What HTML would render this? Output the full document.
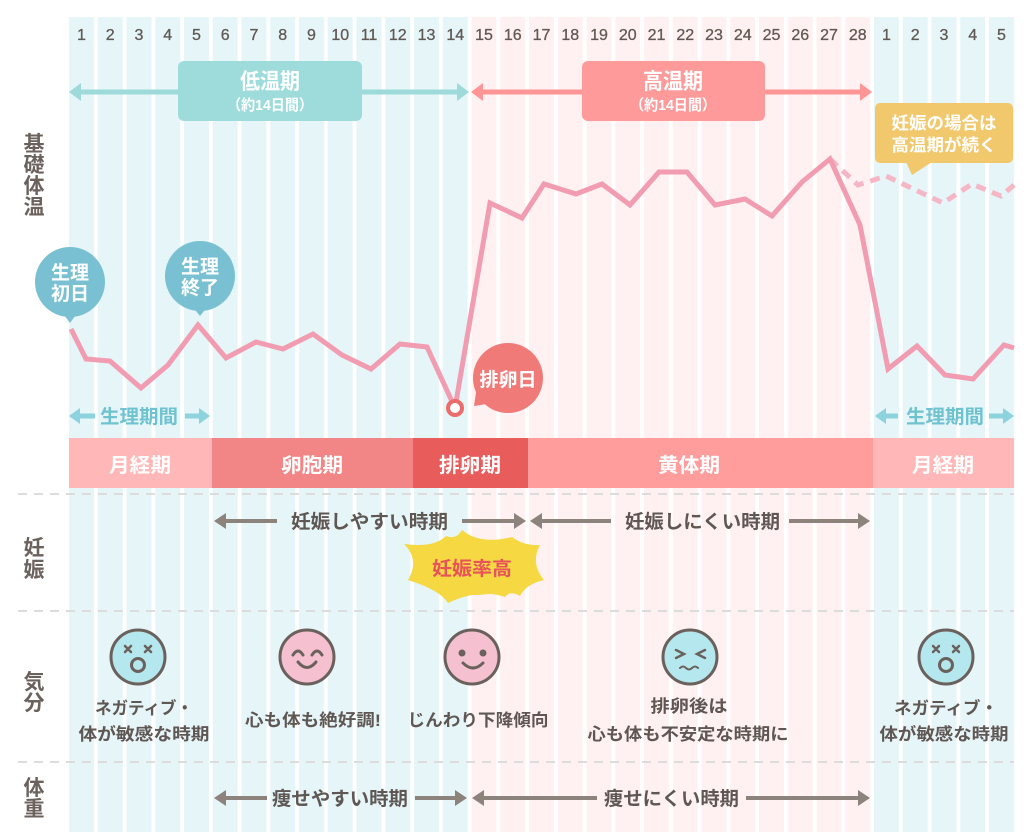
<!DOCTYPE html>
<html>
<head>
<meta charset="utf-8">
<style>
html,body{margin:0;padding:0;background:#fff;}
svg{display:block;}
text{font-family:"Liberation Sans","Noto Sans CJK JP",sans-serif;}
.j{font-family:"Liberation Sans","Noto Sans CJK JP",sans-serif;font-weight:700;}
</style>
</head>
<body>
<svg width="1035" height="832" viewBox="0 0 1035 832" xmlns="http://www.w3.org/2000/svg">
<defs>
<pattern id="pb" x="69" y="0" width="28.75" height="832" patternUnits="userSpaceOnUse"><rect x="0" y="0" width="25" height="832" fill="#e5f5f8"/></pattern>
<pattern id="pp" x="69" y="0" width="28.75" height="832" patternUnits="userSpaceOnUse"><rect x="0" y="0" width="25" height="832" fill="#fff1f1"/></pattern>
</defs>
<rect width="1035" height="832" fill="#fff"/>
<!-- columns -->
<rect x="69" y="17" width="402.5" height="815" fill="url(#pb)"/>
<rect x="471.5" y="17" width="402.5" height="815" fill="url(#pp)"/>
<rect x="874" y="17" width="141" height="815" fill="url(#pb)"/>

<!-- numbers -->
<g font-size="16" fill="#615954" stroke="#615954" stroke-width="0.3" text-anchor="middle">
<text x="81.5" y="40">1</text><text x="110.25" y="40">2</text><text x="139" y="40">3</text><text x="167.75" y="40">4</text><text x="196.5" y="40">5</text><text x="225.25" y="40">6</text><text x="254" y="40">7</text><text x="282.75" y="40">8</text><text x="311.5" y="40">9</text><text x="340.25" y="40">10</text><text x="369" y="40">11</text><text x="397.75" y="40">12</text><text x="426.5" y="40">13</text><text x="455.25" y="40">14</text><text x="484" y="40">15</text><text x="512.75" y="40">16</text><text x="541.5" y="40">17</text><text x="570.25" y="40">18</text><text x="599" y="40">19</text><text x="627.75" y="40">20</text><text x="656.5" y="40">21</text><text x="685.25" y="40">22</text><text x="714" y="40">23</text><text x="742.75" y="40">24</text><text x="771.5" y="40">25</text><text x="800.25" y="40">26</text><text x="829" y="40">27</text><text x="857.75" y="40">28</text><text x="886.5" y="40">1</text><text x="915.25" y="40">2</text><text x="944" y="40">3</text><text x="972.75" y="40">4</text><text x="1001.5" y="40">5</text>
</g>

<!-- top arrows -->
<line x1="78" y1="92" x2="460" y2="92" stroke="#9ddad9" stroke-width="5"/>
<polygon points="69,92 81,83 81,101" fill="#9ddad9"/>
<polygon points="469,92 457,83 457,101" fill="#9ddad9"/>
<line x1="480" y1="92" x2="862" y2="92" stroke="#ff9595" stroke-width="5"/>
<polygon points="471,92 483,83 483,101" fill="#ff9595"/>
<polygon points="872,92 860,83 860,101" fill="#ff9595"/>
<rect x="178" y="61" width="184" height="60" rx="6" fill="#9ddcdb"/>
<rect x="582" y="61" width="183" height="60" rx="6" fill="#ff9a9a"/>
<g class="j" fill="#fff" text-anchor="middle">
<text x="270" y="89" font-size="22" textLength="60" lengthAdjust="spacingAndGlyphs">低温期</text>
<text x="270" y="110" font-size="15" textLength="86" lengthAdjust="spacingAndGlyphs">（約14日間）</text>
<text x="673" y="89" font-size="22" textLength="60" lengthAdjust="spacingAndGlyphs">高温期</text>
<text x="673" y="110" font-size="15" textLength="86" lengthAdjust="spacingAndGlyphs">（約14日間）</text>
</g>

<!-- left axis labels -->
<g class="j" fill="#6b625d" font-size="21" text-anchor="middle">
<text x="34" y="151">基</text><text x="34" y="172">礎</text><text x="34" y="193">体</text><text x="34" y="214">温</text>
<text x="34" y="555">妊</text><text x="34" y="577">娠</text>
<text x="34" y="689">気</text><text x="34" y="710">分</text>
<text x="34" y="795">体</text><text x="34" y="816">重</text>
</g>

<!-- yellow bubble -->
<rect x="875" y="103" width="138" height="60" rx="5" fill="#f2c86c"/>
<polygon points="906,162 932,162 912,175" fill="#f2c86c"/>
<g class="j" fill="#fff" text-anchor="middle" font-size="17">
<text x="944" y="129" textLength="105" lengthAdjust="spacingAndGlyphs">妊娠の場合は</text>
<text x="944" y="151" textLength="105" lengthAdjust="spacingAndGlyphs">高温期が続く</text>
</g>

<!-- bubbles -->
<circle cx="70" cy="282" r="35" fill="#79c1d2"/>
<polygon points="62,312 78,312 70,323" fill="#79c1d2"/>
<circle cx="200" cy="276" r="35" fill="#79c1d2"/>
<polygon points="192,306 208,306 200,316" fill="#79c1d2"/>
<circle cx="508" cy="378" r="35" fill="#f07a78"/>
<polygon points="477,386 493,403 474,406" fill="#f07a78"/>
<g class="j" fill="#fff" text-anchor="middle" font-size="19">
<text x="70" y="279">生理</text><text x="70" y="300">初日</text>
<text x="200" y="273">生理</text><text x="200" y="294">終了</text>
<text x="508" y="386">排卵日</text>
</g>

<!-- temperature line -->
<polyline points="830,159 858,185 886,176 943,203 972,184 1001,196 1014,185" fill="none" stroke="#f5b6c6" stroke-width="5" stroke-dasharray="10 7"/>
<polyline points="71,329 86,359 110,361 141,388 168,365 198,325 226,358 256,342 283,349 313,334 342,355 371,369 400,344 427,347 455,408 490,203 522,218 544,184 576,194 602,184 630,205 659,172 687,172 715,205 745,199 772,216 802,182 830,159 860,225 888,369 917,346 945,375 973,379 1004,345 1014,348" fill="none" stroke="#f19cb1" stroke-width="5" stroke-linejoin="miter"/>
<circle cx="455" cy="408" r="7" fill="#fff" stroke="#ee6b6b" stroke-width="4"/>

<!-- 生理期間 -->
<g stroke="#8dd3de" stroke-width="5">
<line x1="78" y1="416" x2="95" y2="416"/><line x1="185" y1="416" x2="201" y2="416"/>
<line x1="884" y1="416" x2="898" y2="416"/><line x1="989" y1="416" x2="1005" y2="416"/>
</g>
<g fill="#8dd3de">
<polygon points="69,416 80,408 80,424"/><polygon points="210,416 199,408 199,424"/>
<polygon points="875,416 886,408 886,424"/><polygon points="1014,416 1003,408 1003,424"/>
</g>
<g class="j" fill="#6fc2d0" font-size="19" text-anchor="middle">
<text x="139" y="423" textLength="78" lengthAdjust="spacingAndGlyphs">生理期間</text>
<text x="945" y="423" textLength="78" lengthAdjust="spacingAndGlyphs">生理期間</text>
</g>

<!-- phase bar -->
<rect x="69" y="438" width="143" height="50" fill="#ffb7b7"/>
<rect x="212" y="438" width="201" height="50" fill="#f28585"/>
<rect x="413" y="438" width="115" height="50" fill="#e95c5c"/>
<rect x="528" y="438" width="345" height="50" fill="#ff9c9c"/>
<rect x="873" y="438" width="141" height="50" fill="#ffb7b7"/>
<g class="j" fill="#fff" font-size="20" text-anchor="middle">
<text x="140" y="472" textLength="62" lengthAdjust="spacingAndGlyphs">月経期</text>
<text x="312" y="472" textLength="62" lengthAdjust="spacingAndGlyphs">卵胞期</text>
<text x="470" y="472" textLength="62" lengthAdjust="spacingAndGlyphs">排卵期</text>
<text x="689" y="472" textLength="62" lengthAdjust="spacingAndGlyphs">黄体期</text>
<text x="943" y="472" textLength="62" lengthAdjust="spacingAndGlyphs">月経期</text>
</g>

<!-- dashed separators -->
<g stroke="#dcdcdc" stroke-width="2" stroke-dasharray="9 7">
<line x1="18" y1="494" x2="1014" y2="494"/>
<line x1="18" y1="611" x2="1014" y2="611"/>
<line x1="18" y1="762" x2="1014" y2="762"/>
</g>

<!-- pregnancy / weight rows -->
<g stroke="#8c837d" stroke-width="4">
<line x1="224" y1="521" x2="277" y2="521"/><line x1="462" y1="521" x2="516" y2="521"/>
<line x1="540" y1="521" x2="611" y2="521"/><line x1="789" y1="521" x2="860" y2="521"/>
<line x1="224" y1="798" x2="267" y2="798"/><line x1="415" y1="798" x2="457" y2="798"/>
<line x1="482" y1="798" x2="597" y2="798"/><line x1="746" y1="798" x2="860" y2="798"/>
</g>
<g fill="#8c837d">
<polygon points="214,521 226,513 226,529"/><polygon points="526,521 514,513 514,529"/>
<polygon points="530,521 542,513 542,529"/><polygon points="870,521 858,513 858,529"/>
<polygon points="214,798 226,790 226,806"/><polygon points="467,798 455,790 455,806"/>
<polygon points="472,798 484,790 484,806"/><polygon points="870,798 858,790 858,806"/>
</g>
<g class="j" fill="#5f5753" font-size="19" text-anchor="middle">
<text x="369.5" y="528" textLength="157" lengthAdjust="spacingAndGlyphs">妊娠しやすい時期</text>
<text x="702.5" y="528" textLength="155" lengthAdjust="spacingAndGlyphs">妊娠しにくい時期</text>
<text x="340" y="805" textLength="136" lengthAdjust="spacingAndGlyphs">痩せやすい時期</text>
<text x="671.5" y="805" textLength="135" lengthAdjust="spacingAndGlyphs">痩せにくい時期</text>
</g>

<!-- burst -->
<path d="M404,544 Q434,548 446,536 Q456,540 462,530 Q480,545 512,537 Q524,546 540,545 Q530,563 544,580 Q526,584 520,596 Q510,590 505,597 Q480,588 448,603 Q440,590 408,580 Q420,560 404,544 Z" fill="#f5d842"/>
<ellipse cx="473" cy="567" rx="58" ry="28" fill="#f5d842"/>
<text class="j" x="472" y="575" font-size="19" fill="#e8535b" text-anchor="middle" textLength="80" lengthAdjust="spacingAndGlyphs">妊娠率高</text>

<!-- faces -->
<g stroke="#6b615c" stroke-width="3" fill="none" stroke-linecap="round">
<circle cx="138" cy="657" r="27" fill="#b5e7ef"/>
<path d="M125,646 L131,652 M131,646 L125,652 M145,646 L151,652 M151,646 L145,652" stroke-width="2.5"/>
<circle cx="138" cy="665" r="6.5"/>

<circle cx="307" cy="657" r="27" fill="#f5c1d1"/>
<path d="M293,655 Q298,647 303,655 M312,655 Q317,647 322,655"/>
<path d="M298,662 Q307,673 316,662"/>

<circle cx="472" cy="657" r="27" fill="#f5c1d1"/>
<circle cx="462" cy="653" r="3.5" fill="#6b615c" stroke="none"/>
<circle cx="483" cy="653" r="3.5" fill="#6b615c" stroke="none"/>
<path d="M463,663 Q473,673 483,663"/>

<circle cx="690" cy="657" r="27" fill="#b5e7ef"/>
<path d="M676,650 L684,654 L676,658 M705,650 L697,654 L705,658" stroke-width="2.5"/>
<path d="M680,668 q3,-3 6,0 q3,3 6,0 q3,-3 6,0" stroke-width="2"/>

<circle cx="946" cy="657" r="27" fill="#b5e7ef"/>
<path d="M933,646 L939,652 M939,646 L933,652 M953,646 L959,652 M959,646 L953,652" stroke-width="2.5"/>
<circle cx="946" cy="665" r="6.5"/>
</g>
<g class="j" fill="#5f5753" font-size="17" text-anchor="middle">
<text x="144" y="714" textLength="98" lengthAdjust="spacingAndGlyphs">ネガティブ・</text>
<text x="144" y="740" textLength="131" lengthAdjust="spacingAndGlyphs">体が敏感な時期</text>
<text x="313" y="726" textLength="136" lengthAdjust="spacingAndGlyphs">心も体も絶好調!</text>
<text x="478" y="726" textLength="141" lengthAdjust="spacingAndGlyphs">じんわり下降傾向</text>
<text x="689" y="712" textLength="77" lengthAdjust="spacingAndGlyphs">排卵後は</text>
<text x="688" y="740" textLength="201" lengthAdjust="spacingAndGlyphs">心も体も不安定な時期に</text>
<text x="946" y="714" textLength="104" lengthAdjust="spacingAndGlyphs">ネガティブ・</text>
<text x="944" y="740" textLength="129" lengthAdjust="spacingAndGlyphs">体が敏感な時期</text>
</g>
</svg>
</body>
</html>
